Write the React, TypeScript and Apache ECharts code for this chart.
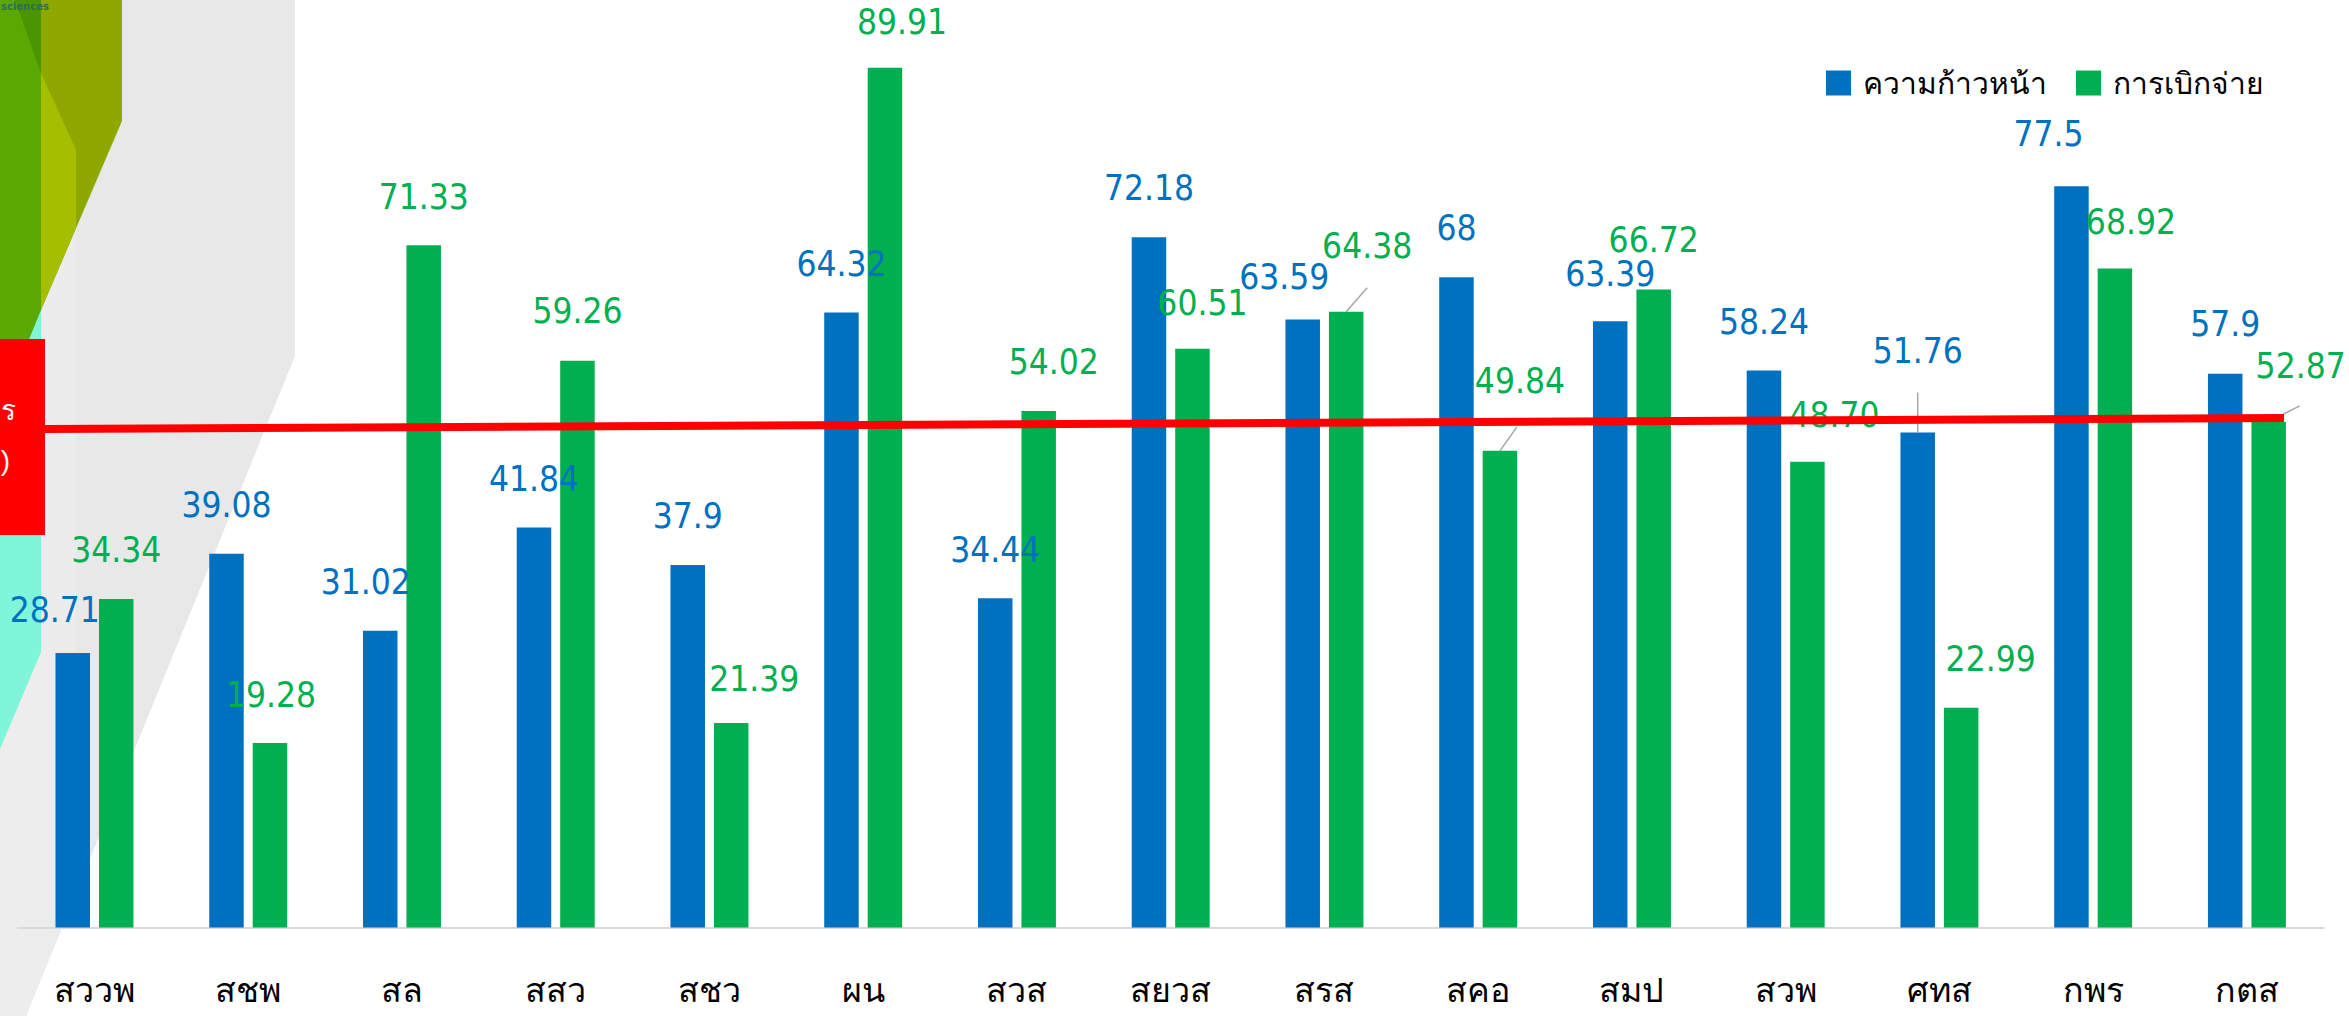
import React, { useEffect, useRef } from "react";
import * as echarts from "echarts";

// ---------- data ----------
const categories = ["สววพ", "สชพ", "สล", "สสว", "สชว", "ผน", "สวส", "สยวส", "สรส", "สคอ", "สมป", "สวพ", "ศทส", "กพร", "กตส"];
const seriesNames = ["ความก้าวหน้า", "การเบิกจ่าย"];
const progress = [28.71, 39.08, 31.02, 41.84, 37.9, 64.32, 34.44, 72.18, 63.59, 68, 63.39, 58.24, 51.76, 77.5, 57.9];
const disbursement = [34.34, 19.28, 71.33, 59.26, 21.39, 89.91, 54.02, 60.51, 64.38, 49.84, 66.72, 48.7, 22.99, 68.92, 52.87];
const progressLabels = ["28.71", "39.08", "31.02", "41.84", "37.9", "64.32", "34.44", "72.18", "63.59", "68", "63.39", "58.24", "51.76", "77.5", "57.9"];
const disbursementLabels = ["34.34", "19.28", "71.33", "59.26", "21.39", "89.91", "54.02", "60.51", "64.38", "49.84", "66.72", "48.70", "22.99", "68.92", "52.87"];

// ---------- label placement (styles, px offsets from default 'top' position) ----------
const progressLabelOffsets = [[-18, -20.5], [0, -26], [-14.5, -26.5], [0, -26], [0, -26.5], [0, -26], [0, -26], [0, -26.5], [-18.5, -19.5], [0, -26.5], [0, -24.5], [0, -26], [0, -59], [-23, -29.5], [0, -27]];
const disbursementLabelOffsets = [[0, -27], [1, -26], [0, -26], [0, -27], [23, -21], [17, -23.5], [15, -26.5], [10, -23], [21, -43.5], [20, -47.5], [0, -26.5], [27, -24], [29.5, -26.5], [16, -23.5], [32, -33.5]];
// leader lines: series (0 progress / 1 disbursement), category index, end offset from bar top centre
const leaders = [
  { series: 1, index: 8, dx: 21, dy: -24 },
  { series: 1, index: 9, dx: 17, dy: -24 },
  { series: 0, index: 12, dx: 0, dy: -40 },
  { series: 1, index: 14, dx: 31, dy: -16 },
];

const BLUE = "#0070C0";
const GREEN = "#00B050";
const BAR_W = 34.5;
const BAR_GAP = 0.26;
const NUM_FONT = "'DejaVu Sans Condensed', 'DejaVu Sans', sans-serif";

export default function App() {
  const ref = useRef<HTMLDivElement>(null);
  useEffect(() => {
    const chart = echarts.init(ref.current!, null, { renderer: "svg" });
    const half = (BAR_W * (1 + BAR_GAP)) / 2;
    const leaderData = leaders.map((l) => [
      l.index,
      (l.series === 0 ? progress : disbursement)[l.index],
      l.series === 0 ? -1 : 1,
      l.dx,
      l.dy,
    ]);
    const legendBase = {
      top: 68, padding: 0, icon: "rect", itemWidth: 25, itemHeight: 25,
      textStyle: { fontSize: 30, color: "#000", padding: [0, 0, 0, 7] },
    };
    const option: any = {
      animation: false,
      backgroundColor: "transparent",
      grid: { left: 17.6, right: 25.2, top: 19, bottom: 88.5, containLabel: false },
      legend: [
        { ...legendBase, data: [seriesNames[0]], left: 1826 },
        { ...legendBase, data: [seriesNames[1]], left: 2076 },
      ],
      xAxis: {
        type: "category",
        data: categories,
        axisLine: { lineStyle: { color: "#D9D9D9", width: 2 } },
        axisTick: { show: false },
        axisLabel: { fontSize: 34, color: "#000", margin: 45 },
      },
      yAxis: { type: "value", min: 0, max: 95, show: false, splitLine: { show: false } },
      series: [
        {
          name: seriesNames[0],
          type: "bar",
          barWidth: BAR_W,
          barGap: BAR_GAP * 100 + "%",
          itemStyle: { color: BLUE },
          label: {
            show: true, position: "top", distance: 5, color: BLUE, fontSize: 35, fontFamily: NUM_FONT,
            formatter: (p: any) => progressLabels[p.dataIndex],
          },
          data: progress.map((v, i) => ({ value: v, label: { offset: progressLabelOffsets[i] } })),
          z: 2,
        },
        {
          name: seriesNames[1],
          type: "bar",
          barWidth: BAR_W,
          barGap: BAR_GAP * 100 + "%",
          itemStyle: { color: GREEN },
          label: {
            show: true, position: "top", distance: 5, color: GREEN, fontSize: 35, fontFamily: NUM_FONT,
            formatter: (p: any) => disbursementLabels[p.dataIndex],
          },
          data: disbursement.map((v, i) => ({ value: v, label: { offset: disbursementLabelOffsets[i] } })),
          z: 2,
        },
        {
          type: "custom",
          silent: true,
          z: 3,
          encode: { x: 0, y: 1 },
          data: leaderData,
          renderItem: (params: any, api: any) => {
            const p = api.coord([api.value(0), api.value(1)]);
            const x0 = p[0] + api.value(2) * half;
            const y0 = p[1];
            return {
              type: "line",
              shape: { x1: x0, y1: y0, x2: x0 + api.value(3), y2: y0 + api.value(4) },
              style: { stroke: "#A6A6A6", lineWidth: 1.5 },
            };
          },
        },
      ],
      graphic: [
        { type: "polygon", silent: true, z: -5, shape: { points: [[0, 0], [295, 0], [295, 356], [26, 1016], [0, 1016]] }, style: { fill: "#E8E8E8" } },
        { type: "polygon", silent: true, z: -4, shape: { points: [[41, 306], [76, 228], [76, 893], [41, 979]] }, style: { fill: "#ECECEC" } },
        { type: "polygon", silent: true, z: -4, shape: { points: [[0, 749], [41, 652], [41, 979], [26, 1016], [0, 1016]] }, style: { fill: "#EDEDED" } },
        { type: "polygon", silent: true, z: -3, shape: { points: [[0, 300], [41, 300], [41, 652], [0, 749]] }, style: { fill: "#7FF5D9" } },
        { type: "polygon", silent: true, z: -2, shape: { points: [[0, 0], [41, 0], [41, 310], [0, 410]] }, style: { fill: "#5AA800" } },
        { type: "polygon", silent: true, z: -2, shape: { points: [[41, 0], [122, 0], [122, 121], [41, 310]] }, style: { fill: "#8EA800" } },
        { type: "polygon", silent: true, z: -1, shape: { points: [[41, 73], [76, 150], [76, 228], [41, 310]] }, style: { fill: "#A6BE00" } },
        { type: "polygon", silent: true, z: -1, shape: { points: [[15, 0], [41, 0], [41, 73]] }, style: { fill: "#4A9500" } },
        { type: "text", silent: true, z: 0, x: 1, y: 6, style: { text: "sciences", fontSize: 10, fontWeight: "bold", fill: "#2F6E57", align: "left", verticalAlign: "middle", fontFamily: "'DejaVu Sans', sans-serif" } },
        { type: "rect", silent: true, z: 90, shape: { x: 0, y: 339, width: 45, height: 196 }, style: { fill: "#FF0000" } },
        { type: "text", silent: true, z: 91, x: 16, y: 410, style: { text: "ร", fontSize: 28, fill: "#FFFFFF", align: "right", verticalAlign: "middle" } },
        { type: "text", silent: true, z: 91, x: 10, y: 460, style: { text: ")", fontSize: 28, fill: "#FFFFFF", align: "right", verticalAlign: "middle" } },
        { type: "line", silent: true, z: 95, shape: { x1: 45, y1: 429, x2: 2284, y2: 418 }, style: { stroke: "#FF0000", lineWidth: 8 } },
      ],
    };
    chart.setOption(option);
    return () => chart.dispose();
  }, []);
  return <div ref={ref} style={{ position: "absolute", left: 0, top: 0, width: 2349, height: 1016 }} />;
}
